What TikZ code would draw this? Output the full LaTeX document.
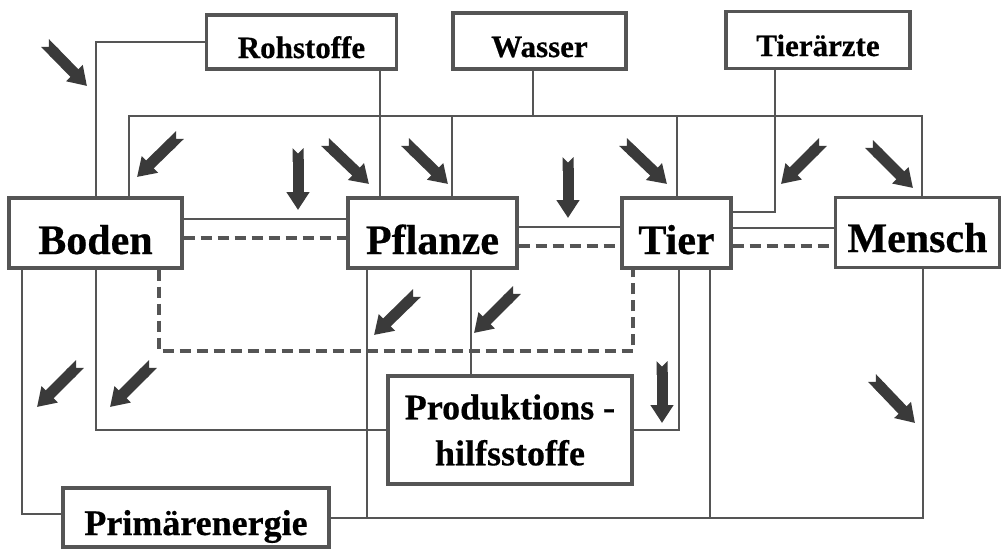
\documentclass[tikz,border=0pt]{standalone}
\usepackage{fontspec}
\setmainfont{Liberation Serif}[BoldFeatures={FakeBold=0.5}]
\usetikzlibrary{arrows.meta}
\definecolor{linegray}{RGB}{85,85,85}
\definecolor{arrowgray}{RGB}{58,58,58}

\begin{document}
\begin{tikzpicture}[x=1pt,y=-1pt]
		\tikzstyle{every node}+=[inner sep=0pt]
		\tikzstyle{box}=[draw=linegray, line width=3.3pt, fill=white]
		\tikzstyle{smallbox}=[box, font=\fontsize{31}{36}\selectfont\bfseries, text height=32pt, text depth=0pt]
		\tikzstyle{bigbox}=[box, minimum height=70pt, font=\fontsize{42}{48}\selectfont\bfseries, text height=42pt, text depth=0pt]
		\tikzstyle{midbox}=[box, font=\fontsize{36}{46}\selectfont\bfseries]
		\tikzstyle{link}=[draw=linegray, line width=2pt]
		\tikzstyle{dashlink}=[draw=linegray, line width=3.5pt, dash pattern=on 11pt off 6pt]
		\tikzstyle{bigarrow}=[draw=arrowgray, line width=11pt, {Triangle Cap[reversed]}-{Triangle[width=22pt,length=18pt]}]
		\useasboundingbox (0,0) rectangle (1002,550);
		\coordinate (bus) at (0,116);
		\coordinate (dashy) at (0,351);
		\coordinate (laneBE) at (22,0);
		\coordinate (laneWB) at (129,0);
		\coordinate (laneD) at (159,0);
		\coordinate (lanePE) at (367,0);
		\coordinate (laneRP) at (380,0);
		\coordinate (laneWP) at (452,0);
		\coordinate (lanePP) at (471,0);
		\coordinate (laneW) at (533,0);
		\coordinate (laneDT) at (633,0);
		\coordinate (laneTP) at (679,0);
		\coordinate (laneTE) at (710,0);
		\coordinate (laneAT) at (775,0);
		\coordinate (laneWM) at (922,0);
		\coordinate (laneME) at (923,0);
		\node [smallbox, minimum width=190pt, minimum height=54pt] (roh) at (301.5,42) {Rohstoffe};
		\node [smallbox, minimum width=173pt, minimum height=56pt] (wasser) at (539.5,41) {Wasser};
		\node [smallbox, minimum width=184pt, minimum height=57pt] (tierarzt) at (818,40) {Tierärzte};
		\node [bigbox, minimum width=173pt] (boden) at (95.5,233) {Boden};
		\node [bigbox, minimum width=169pt] (pflanze) at (432.5,233) {Pflanze};
		\node [bigbox, minimum width=109pt] (tier) at (676.5,233) {Tier};
		\node [bigbox, minimum width=164pt, text height=39pt] (mensch) at (917.5,232.5) {Mensch};
		\node [midbox, align=center, minimum width=244pt, minimum height=108pt] (prod) at (510,430) {Produktions -\\hilfsstoffe};
		\node [midbox, minimum width=266pt, minimum height=59pt, text height=43pt, text depth=8pt] (energie) at (196,517.5) {Primärenergie\hspace{10pt}};
		\draw [link] (roh.west) -| (boden.north);
		\draw [link] (laneWB |- boden.north) |- (laneWM |- bus) -- (laneWM |- mensch.north);
		\draw [link] (wasser.south -| laneW) -- (laneW |- bus);
		\draw [link] (roh.south -| laneRP) -- (laneRP |- pflanze.north);
		\draw [link] (laneWP |- bus) -- (laneWP |- pflanze.north);
		\draw [link] (tier.north |- bus) -- (tier.north);
		\draw [link] (tierarzt.south -| laneAT) |- ([yshift=21pt]tier.east);
		\draw [link] ([yshift=14pt]boden.east) -- ([yshift=14pt]pflanze.west);
		\draw [dashlink] ([yshift=-5pt]boden.east) -- ([yshift=-5pt]pflanze.west);
		\draw [link] ([yshift=6pt]pflanze.east) -- ([yshift=6pt]tier.west);
		\draw [dashlink] ([yshift=-13pt]pflanze.east) -- ([yshift=-13pt]tier.west);
		\draw [link] ([yshift=5pt]tier.east) -- ([yshift=5pt]tier.east -| mensch.west);
		\draw [dashlink] ([yshift=-13pt]tier.east) -- ([yshift=-13pt]tier.east -| mensch.west);
		\draw [link] (laneBE |- boden.south) |- ([yshift=4pt]energie.west);
		\draw [link] (boden.south) |- (prod.west);
		\draw [dashlink] (laneD |- boden.south) |- (laneDT |- dashy) -- (laneDT |- tier.south);
		\draw [link] (pflanze.south -| lanePE) -- (lanePE |- energie.east);
		\draw [link] (pflanze.south -| lanePP) -- (lanePP |- prod.north);
		\draw [link] (tier.south -| laneTP) |- (prod.east);
		\draw [link] (tier.south -| laneTE) -- (laneTE |- energie.east);
		\draw [link] (energie.east) -| (laneME |- mensch.south);
		\draw [bigarrow] (45,43) -- (87,86);
		\draw [bigarrow] (180,135) -- (137,177);
		\draw [bigarrow] (298,148) -- (298,210);
		\draw [bigarrow] (325,142) -- (369,184);
		\draw [bigarrow] (405,142) -- (448,184);
		\draw [bigarrow] (568,157) -- (568,218);
		\draw [bigarrow] (623,142) -- (667,184);
		\draw [bigarrow] (823,142) -- (781,184);
		\draw [bigarrow] (869,144) -- (913,188);
		\draw [bigarrow] (417,293) -- (374,335);
		\draw [bigarrow] (517,290) -- (474,333);
		\draw [bigarrow] (80,364) -- (37,407);
		\draw [bigarrow] (153,364) -- (110,407);
		\draw [bigarrow] (662,361) -- (662,423);
		\draw [bigarrow] (872,378) -- (915,423);
		\end{tikzpicture}
\end{document}
